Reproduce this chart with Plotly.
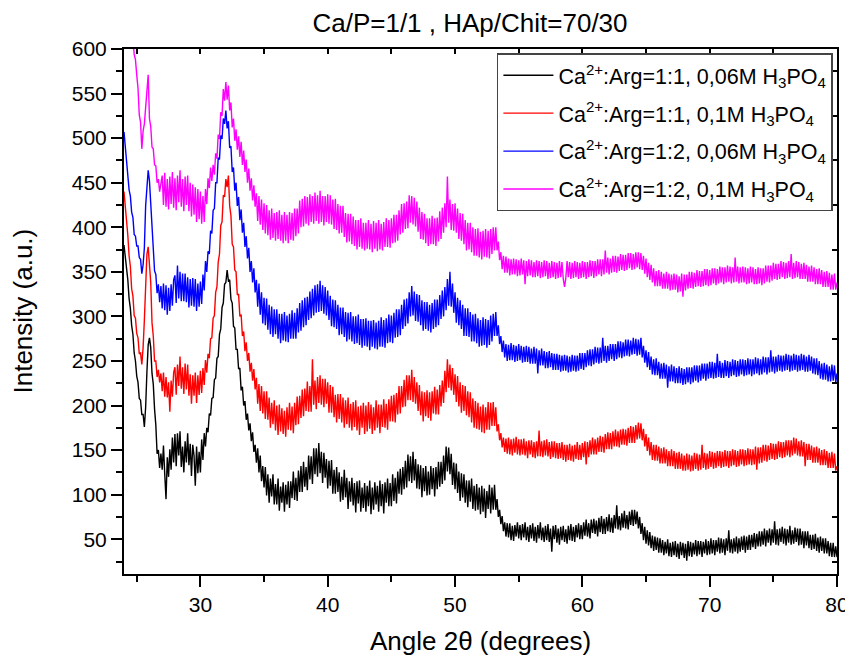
import plotly.graph_objects as go

# XRD scan grid (uniform step scan, 0.1 degree)
scan_start, scan_step, n_points = 24.0, 0.1, 561
angle = [round(scan_start + scan_step * i, 1) for i in range(n_points)]

# Intensity values, 10 per degree (x.0 ... x.9), last value at 80.0
black_1_1_006 = [
    380, 368, 350, 341, 320, 309, 290, 280, 259, 250,  # 24
    233, 226, 208, 206, 190, 190, 176, 198, 238, 268,  # 25
    276, 265, 236, 224, 196, 178, 146, 150, 130, 146,  # 26
    128, 155, 123, 95, 142, 120, 151, 128, 164, 136,   # 27
    168, 132, 169, 144, 171, 131, 154, 125, 160, 136,  # 28
    169, 133, 157, 121, 156, 144, 110, 154, 124, 148,  # 29
    125, 162, 139, 169, 154, 175, 170, 191, 189, 208,  # 30
    209, 229, 231, 253, 255, 280, 286, 310, 315, 336,  # 31
    338, 352, 340, 341, 319, 315, 289, 287, 263, 263,  # 32
    241, 242, 217, 221, 200, 205, 184, 191, 172, 180,  # 33
    160, 170, 148, 156, 136, 152, 125, 144, 115, 132,  # 34
    108, 131, 99, 123, 91, 118, 98, 123, 89, 112,      # 35
    89, 118, 82, 109, 91, 114, 81, 111, 89, 115,       # 36
    85, 115, 96, 126, 94, 119, 93, 127, 103, 132,      # 37
    103, 137, 109, 131, 105, 144, 117, 143, 112, 152,  # 38
    123, 152, 120, 158, 124, 148, 113, 147, 119, 140,  # 39
    107, 138, 110, 139, 101, 128, 101, 131, 103, 125,  # 40
    92, 120, 94, 128, 97, 119, 84, 115, 92, 119,       # 41
    88, 113, 80, 115, 90, 116, 81, 108, 85, 113,       # 42
    81, 110, 87, 116, 78, 108, 83, 114, 89, 110,       # 43
    81, 116, 87, 112, 79, 114, 91, 118, 87, 113,       # 44
    87, 123, 93, 119, 90, 126, 101, 129, 100, 131,     # 45
    106, 138, 108, 145, 115, 143, 113, 148, 116, 140,  # 46
    107, 134, 106, 133, 97, 130, 104, 132, 99, 126,    # 47
    100, 132, 106, 130, 98, 131, 106, 137, 109, 137,   # 48
    112, 144, 116, 154, 126, 153, 123, 146, 111, 136,  # 49
    106, 135, 102, 126, 93, 124, 97, 123, 91, 116,     # 50
    86, 116, 92, 118, 84, 110, 82, 112, 83, 108,       # 51
    78, 110, 81, 107, 74, 104, 84, 111, 79, 108,       # 52
    83, 111, 83, 95, 75, 83, 67, 76, 59, 69,           # 53
    53, 68, 52, 68, 49, 65, 48, 66, 53, 69,            # 54
    51, 66, 49, 67, 52, 69, 49, 64, 47, 66,            # 55
    51, 68, 48, 64, 46, 66, 51, 69, 49, 63,            # 56
    47, 65, 49, 67, 47, 62, 36, 65, 50, 66,            # 57
    46, 62, 44, 64, 49, 65, 47, 61, 45, 65,            # 58
    49, 67, 48, 64, 47, 66, 52, 68, 50, 66,            # 59
    50, 69, 54, 72, 53, 68, 51, 72, 57, 73,            # 60
    56, 71, 53, 74, 58, 76, 56, 73, 56, 75,            # 61
    59, 78, 58, 74, 57, 77, 62, 88, 61, 76,            # 62
    60, 79, 63, 82, 62, 77, 61, 81, 66, 83,            # 63
    65, 83, 67, 81, 62, 75, 56, 68, 49, 64,            # 64
    45, 60, 43, 58, 40, 54, 37, 53, 38, 52,            # 65
    35, 51, 35, 49, 32, 47, 34, 50, 31, 46,            # 66
    30, 47, 32, 48, 30, 45, 28, 47, 32, 46,            # 67
    29, 45, 26, 48, 31, 47, 30, 46, 33, 49,            # 68
    31, 48, 33, 48, 30, 47, 34, 50, 32, 48,            # 69
    33, 51, 34, 49, 32, 49, 36, 52, 34, 51,            # 70
    35, 50, 32, 51, 37, 60, 35, 50, 34, 51,            # 71
    36, 53, 34, 51, 36, 53, 38, 54, 35, 53,            # 72
    38, 55, 38, 55, 41, 57, 39, 56, 42, 59,            # 73
    42, 59, 44, 62, 42, 60, 46, 62, 43, 61,            # 74
    46, 70, 44, 61, 43, 62, 47, 64, 45, 62,            # 75
    43, 61, 46, 65, 44, 60, 45, 63, 47, 62,            # 76
    43, 62, 44, 59, 40, 59, 43, 59, 40, 55,            # 77
    38, 55, 39, 56, 37, 52, 35, 53, 37, 51,            # 78
    34, 51, 34, 48, 31, 46, 30, 46, 30, 42,            # 79
    30,                                                # 80
]

red_1_1_01 = [
    440, 425, 401, 391, 368, 356, 331, 323, 301, 298,  # 24
    281, 276, 258, 259, 246, 265, 296, 344, 370, 378,  # 25
    360, 338, 293, 278, 250, 250, 232, 240, 226, 236,  # 26
    216, 237, 210, 232, 209, 226, 193, 228, 210, 237,  # 27
    243, 212, 246, 222, 255, 219, 243, 213, 247, 218,  # 28
    246, 211, 235, 202, 234, 211, 237, 203, 234, 212,  # 29
    239, 214, 242, 223, 251, 237, 258, 253, 275, 276,  # 30
    298, 301, 327, 333, 361, 370, 402, 406, 436, 434,  # 31
    454, 445, 458, 424, 413, 381, 378, 352, 350, 324,  # 32
    325, 300, 302, 278, 283, 261, 271, 250, 259, 238,  # 33
    248, 228, 241, 218, 231, 202, 224, 194, 222, 191,  # 34
    216, 185, 216, 184, 209, 175, 203, 179, 206, 172,  # 35
    200, 167, 201, 171, 197, 168, 194, 165, 198, 173,  # 36
    203, 172, 199, 169, 203, 178, 210, 179, 211, 186,  # 37
    218, 188, 219, 194, 227, 193, 222, 193, 252, 201,  # 38
    228, 196, 232, 203, 234, 201, 230, 198, 230, 202,  # 39
    226, 192, 223, 192, 221, 187, 212, 181, 213, 185,  # 40
    213, 181, 209, 175, 206, 179, 209, 175, 202, 172,  # 41
    204, 176, 206, 172, 199, 167, 200, 175, 203, 168,  # 42
    200, 171, 204, 174, 201, 168, 198, 172, 206, 175,  # 43
    201, 169, 201, 176, 207, 175, 202, 173, 207, 182,  # 44
    211, 182, 212, 181, 214, 190, 222, 191, 222, 198,  # 45
    229, 199, 234, 206, 234, 206, 240, 204, 232, 202,  # 46
    226, 194, 223, 189, 216, 182, 215, 188, 217, 186,  # 47
    215, 183, 216, 191, 221, 190, 218, 190, 223, 199,  # 48
    228, 203, 239, 215, 252, 220, 246, 217, 242, 212,  # 49
    235, 204, 233, 199, 226, 192, 223, 194, 222, 189,  # 50
    216, 187, 215, 181, 208, 175, 205, 174, 203, 173,  # 51
    199, 170, 201, 169, 198, 173, 204, 173, 203, 177,  # 52
    204, 177, 198, 171, 179, 161, 169, 153, 164, 148,  # 53
    163, 146, 164, 145, 162, 144, 163, 147, 165, 145,  # 54
    162, 144, 162, 145, 163, 144, 160, 141, 161, 145,  # 55
    161, 142, 159, 141, 160, 143, 172, 143, 160, 142,  # 56
    161, 144, 162, 143, 159, 140, 160, 142, 160, 141,  # 57
    158, 140, 158, 141, 159, 139, 156, 137, 156, 139,  # 58
    157, 138, 155, 137, 156, 140, 159, 139, 156, 139,  # 59
    158, 142, 160, 134, 159, 142, 161, 145, 164, 145,  # 60
    162, 145, 164, 148, 166, 148, 165, 147, 168, 151,  # 61
    170, 151, 169, 151, 171, 154, 173, 154, 171, 153,  # 62
    173, 156, 174, 156, 173, 155, 175, 158, 177, 158,  # 63
    176, 158, 178, 162, 181, 163, 180, 161, 174, 154,  # 64
    168, 149, 164, 144, 159, 139, 156, 138, 156, 138,  # 65
    154, 135, 152, 135, 153, 135, 151, 132, 149, 132,  # 66
    151, 132, 149, 129, 147, 129, 148, 129, 146, 127,  # 67
    144, 127, 146, 128, 145, 126, 144, 127, 147, 129,  # 68
    146, 127, 145, 128, 156, 130, 147, 128, 146, 129,  # 69
    149, 131, 148, 129, 147, 130, 149, 132, 149, 130,  # 70
    148, 131, 150, 132, 149, 130, 149, 132, 151, 133,  # 71
    150, 131, 149, 132, 151, 134, 151, 132, 150, 133,  # 72
    152, 134, 151, 133, 151, 134, 154, 128, 153, 135,  # 73
    153, 136, 156, 138, 156, 137, 155, 139, 158, 140,  # 74
    157, 139, 157, 140, 160, 142, 159, 141, 159, 142,  # 75
    161, 144, 161, 142, 161, 144, 164, 146, 163, 144,  # 76
    160, 143, 161, 143, 159, 132, 157, 139, 157, 139,  # 77
    155, 136, 153, 136, 154, 136, 152, 133, 150, 133,  # 78
    151, 133, 149, 130, 147, 130, 148, 130, 146, 127,  # 79
    132,                                               # 80
]

blue_1_2_006 = [
    507, 490, 467, 459, 442, 435, 417, 411, 392, 390,  # 24
    379, 379, 366, 364, 348, 358, 377, 424, 448, 464,  # 25
    452, 428, 391, 377, 351, 347, 326, 336, 316, 334,  # 26
    309, 337, 307, 335, 302, 332, 306, 336, 312, 341,  # 27
    346, 315, 357, 320, 350, 317, 348, 317, 348, 316,  # 28
    344, 310, 342, 312, 343, 311, 342, 306, 337, 311,  # 29
    339, 314, 347, 329, 362, 350, 373, 370, 396, 393,  # 30
    419, 421, 450, 450, 478, 476, 503, 499, 522, 516,  # 31
    531, 511, 519, 489, 491, 462, 467, 441, 450, 424,  # 32
    434, 408, 420, 394, 405, 378, 390, 365, 377, 350,  # 33
    362, 338, 354, 327, 341, 311, 337, 302, 327, 292,  # 34
    321, 290, 320, 285, 313, 280, 311, 277, 308, 280,  # 35
    308, 275, 303, 270, 303, 273, 305, 272, 301, 271,  # 36
    303, 275, 307, 275, 304, 275, 309, 282, 315, 284,  # 37
    318, 288, 321, 290, 322, 296, 328, 298, 331, 301,  # 38
    335, 304, 336, 305, 340, 306, 335, 303, 333, 301,  # 39
    329, 296, 323, 289, 319, 288, 318, 286, 313, 279,  # 40
    310, 280, 310, 277, 305, 272, 304, 274, 305, 272,  # 41
    300, 269, 300, 270, 302, 268, 297, 265, 297, 267,  # 42
    298, 266, 295, 262, 295, 266, 296, 264, 293, 263,  # 43
    295, 266, 299, 266, 296, 265, 298, 270, 302, 271,  # 44
    301, 270, 304, 276, 308, 277, 308, 279, 313, 286,  # 45
    319, 289, 320, 292, 327, 300, 334, 301, 328, 295,  # 46
    325, 294, 324, 290, 318, 284, 316, 286, 316, 284,  # 47
    313, 282, 315, 286, 319, 288, 319, 290, 324, 297,  # 48
    329, 300, 333, 307, 342, 312, 350, 311, 337, 304,  # 49
    327, 293, 321, 290, 318, 286, 313, 278, 309, 278,  # 50
    309, 277, 305, 272, 302, 272, 303, 270, 298, 266,  # 51
    296, 267, 299, 268, 297, 265, 296, 268, 301, 272,  # 52
    303, 278, 305, 278, 290, 269, 278, 260, 273, 254,  # 53
    269, 250, 268, 251, 270, 251, 268, 249, 267, 250,  # 54
    269, 251, 267, 248, 266, 249, 267, 249, 266, 247,  # 55
    264, 247, 266, 247, 264, 236, 262, 245, 264, 245,  # 56
    261, 242, 260, 242, 261, 243, 259, 240, 258, 240,  # 57
    258, 240, 257, 238, 256, 239, 257, 239, 256, 237,  # 58
    255, 238, 257, 239, 256, 238, 256, 239, 259, 241,  # 59
    259, 240, 259, 243, 262, 245, 263, 244, 263, 246,  # 60
    266, 248, 265, 247, 265, 248, 276, 250, 267, 248,  # 61
    267, 250, 269, 252, 269, 250, 269, 252, 272, 254,  # 62
    272, 253, 271, 255, 274, 256, 274, 255, 273, 257,  # 63
    276, 258, 275, 256, 274, 257, 276, 254, 267, 248,  # 64
    262, 243, 260, 240, 255, 235, 252, 234, 253, 234,  # 65
    249, 230, 247, 230, 248, 230, 246, 220, 244, 227,  # 66
    246, 227, 244, 225, 242, 225, 244, 225, 242, 223,  # 67
    241, 224, 243, 226, 243, 224, 243, 226, 245, 228,  # 68
    245, 226, 245, 228, 247, 230, 247, 228, 247, 230,  # 69
    249, 231, 249, 230, 248, 231, 258, 232, 250, 231,  # 70
    248, 231, 251, 233, 250, 231, 249, 233, 252, 234,  # 71
    251, 232, 250, 233, 252, 235, 252, 233, 251, 234,  # 72
    253, 235, 252, 233, 252, 235, 254, 236, 253, 234,  # 73
    252, 235, 255, 237, 254, 235, 254, 237, 262, 238,  # 74
    255, 236, 255, 238, 257, 239, 256, 238, 256, 239,  # 75
    258, 240, 257, 238, 256, 239, 258, 240, 257, 238,  # 76
    256, 239, 258, 240, 257, 238, 255, 238, 257, 239,  # 77
    255, 236, 253, 235, 253, 234, 250, 230, 247, 229,  # 78
    248, 229, 246, 227, 244, 227, 246, 228, 245, 226,  # 79
    236,                                               # 80
]

magenta_1_2_01 = [
    700, 690, 674, 666, 650, 642, 622, 612, 594, 588,  # 24
    571, 556, 526, 518, 488, 508, 516, 538, 548, 571,  # 25
    522, 513, 490, 488, 470, 469, 450, 454, 440, 447,  # 26
    458, 425, 461, 423, 454, 420, 457, 426, 462, 422,  # 27
    455, 419, 458, 428, 464, 423, 454, 418, 457, 425,  # 28
    458, 418, 450, 412, 448, 414, 445, 406, 443, 409,  # 29
    440, 404, 435, 406, 443, 426, 455, 444, 467, 452,  # 30
    470, 459, 483, 477, 504, 499, 529, 525, 555, 542,  # 31
    563, 543, 559, 531, 540, 512, 522, 497, 510, 487,  # 32
    502, 479, 496, 470, 486, 462, 476, 450, 466, 441,  # 33
    455, 430, 447, 423, 438, 407, 435, 403, 431, 397,  # 34
    427, 393, 425, 391, 419, 386, 421, 388, 416, 385,  # 35
    417, 387, 419, 385, 414, 382, 417, 385, 414, 382,  # 36
    417, 386, 416, 385, 421, 390, 421, 393, 430, 400,  # 37
    432, 401, 435, 404, 434, 402, 437, 406, 435, 404,  # 38
    439, 407, 436, 404, 441, 406, 435, 402, 435, 406,  # 39
    437, 404, 436, 403, 431, 398, 432, 397, 426, 393,  # 40
    424, 394, 424, 389, 416, 383, 415, 384, 415, 381,  # 41
    412, 379, 408, 375, 408, 378, 410, 376, 405, 374,  # 42
    405, 376, 408, 375, 404, 372, 407, 376, 405, 373,  # 43
    408, 375, 404, 374, 406, 378, 410, 378, 408, 377,  # 44
    410, 382, 414, 383, 414, 385, 419, 392, 426, 394,  # 45
    427, 398, 429, 399, 436, 405, 435, 403, 433, 401,  # 46
    429, 395, 422, 387, 417, 386, 415, 382, 410, 379,  # 47
    410, 381, 413, 381, 410, 379, 411, 384, 418, 387,  # 48
    422, 394, 427, 400, 457, 405, 431, 397, 426, 396,  # 49
    427, 394, 421, 387, 416, 385, 415, 381, 408, 374,  # 50
    405, 375, 405, 372, 400, 368, 398, 368, 399, 366,  # 51
    395, 364, 396, 367, 398, 366, 396, 365, 398, 370,  # 52
    400, 374, 400, 374, 384, 363, 372, 353, 368, 349,  # 53
    367, 349, 365, 346, 364, 347, 365, 347, 364, 345,  # 54
    363, 346, 365, 347, 363, 336, 362, 345, 364, 346,  # 55
    363, 344, 361, 344, 363, 345, 362, 343, 361, 344,  # 56
    363, 345, 362, 342, 360, 343, 362, 344, 361, 342,  # 57
    360, 343, 362, 344, 361, 342, 333, 343, 362, 344,  # 58
    361, 342, 360, 343, 362, 344, 361, 342, 360, 343,  # 59
    362, 344, 361, 342, 361, 344, 363, 345, 362, 343,  # 60
    362, 345, 364, 347, 364, 345, 364, 347, 374, 349,  # 61
    366, 347, 365, 349, 368, 350, 368, 349, 367, 351,  # 62
    370, 352, 369, 351, 369, 352, 371, 354, 371, 352,  # 63
    370, 353, 372, 355, 372, 353, 371, 352, 368, 348,  # 64
    365, 344, 360, 341, 358, 338, 354, 334, 351, 334,  # 65
    352, 334, 350, 331, 348, 331, 350, 331, 348, 329,  # 66
    347, 330, 348, 330, 347, 327, 345, 328, 348, 322,  # 67
    347, 329, 347, 331, 350, 332, 350, 331, 349, 333,  # 68
    352, 334, 351, 333, 351, 334, 353, 335, 353, 334,  # 69
    352, 335, 354, 337, 354, 335, 353, 337, 356, 338,  # 70
    355, 336, 355, 338, 357, 339, 356, 337, 355, 338,  # 71
    366, 339, 356, 337, 355, 338, 356, 338, 355, 336,  # 72
    354, 337, 356, 338, 355, 336, 353, 336, 355, 337,  # 73
    354, 335, 354, 337, 357, 339, 357, 338, 357, 340,  # 74
    360, 342, 359, 341, 359, 342, 362, 344, 361, 342,  # 75
    360, 343, 362, 344, 370, 342, 360, 343, 362, 344,  # 76
    361, 342, 359, 342, 360, 342, 358, 339, 356, 339,  # 77
    357, 339, 355, 336, 353, 336, 354, 336, 352, 333,  # 78
    350, 333, 351, 333, 349, 330, 347, 330, 348, 330,  # 79
    338,                                               # 80
]

series_names = [
    "Ca<sup>2+</sup>:Arg=1:1, 0,06M H<sub>3</sub>PO<sub>4</sub>",
    "Ca<sup>2+</sup>:Arg=1:1, 0,1M H<sub>3</sub>PO<sub>4</sub>",
    "Ca<sup>2+</sup>:Arg=1:2, 0,06M H<sub>3</sub>PO<sub>4</sub>",
    "Ca<sup>2+</sup>:Arg=1:2, 0,1M H<sub>3</sub>PO<sub>4</sub>",
]
series_values = [black_1_1_006, red_1_1_01, blue_1_2_006, magenta_1_2_01]
series_colors = ["#000000", "#FF0000", "#0000FF", "#FF00FF"]

x_major = [30, 40, 50, 60, 70, 80]
x_minor = [25, 35, 45, 55, 65, 75]
y_major = [50, 100, 150, 200, 250, 300, 350, 400, 450, 500, 550, 600]
y_minor = [25, 75, 125, 175, 225, 275, 325, 375, 425, 475, 525, 575]
x_top = [25, 30, 35, 40, 45, 50, 55, 60, 65, 70, 75, 80]

FONT = "Arial, Liberation Sans, Helvetica, sans-serif"

# The page body adds an 8 px offset; the layout below is shifted to compensate.
OFF = 8
W, H = 853, 656

fig = go.Figure()
for rank in [3, 2, 1, 0]:
    fig.add_trace(go.Scatter(
        x=angle[:len(series_values[rank])], y=series_values[rank], mode="lines",
        name=series_names[rank], legendrank=rank + 1, legendgroup=f"g{rank}",
        line=dict(color=series_colors[rank], width=1.4),
    ))
# empty trace that carries the mirrored top/right axes
fig.add_trace(go.Scatter(x=[], y=[], xaxis="x2", yaxis="y2", showlegend=False, hoverinfo="skip"))

axis_common = dict(showline=True, linecolor="black", linewidth=2, showgrid=False, zeroline=False)

fig.update_layout(
    width=W, height=H,
    margin=dict(l=124 - OFF, r=W - (837 - OFF), t=49 - OFF, b=H - (574 - OFF)),
    paper_bgcolor="white", plot_bgcolor="white",
    font=dict(family=FONT, color="black"),
    title=dict(text="Ca/P=1/1 , HAp/Chit=70/30", x=(470 - OFF) / W, xanchor="center",
               y=1 - (23 - OFF) / H, yanchor="middle", yref="container",
               font=dict(size=26, family=FONT, color="black")),
    xaxis=dict(range=[24, 80], tickmode="array", tickvals=x_major, ticks="outside",
               ticklen=11, tickwidth=2, tickcolor="black", tickfont=dict(size=21),
               minor=dict(tickmode="array", tickvals=x_minor, ticks="outside", ticklen=6,
                          tickwidth=2, tickcolor="black", showgrid=False),
               **axis_common),
    yaxis=dict(range=[11, 600], tickmode="array", tickvals=y_major, ticks="outside",
               ticklen=11, tickwidth=2, tickcolor="black", tickfont=dict(size=21),
               minor=dict(tickmode="array", tickvals=y_minor, ticks="outside", ticklen=6,
                          tickwidth=2, tickcolor="black", showgrid=False),
               **axis_common),
    xaxis2=dict(range=[24, 80], overlaying="x", side="top", anchor="y2",
                tickmode="array", tickvals=x_top, ticks="inside", ticklen=5, tickwidth=2,
                tickcolor="black", showticklabels=False, **axis_common),
    yaxis2=dict(range=[11, 600], overlaying="y", side="right", anchor="x2",
                tickmode="array", tickvals=y_minor, ticks="inside", ticklen=5, tickwidth=2,
                tickcolor="black", showticklabels=False, **axis_common),
    legend=dict(x=0.523, y=0.992, xanchor="left", yanchor="top",
                bgcolor="white", bordercolor="#444444", borderwidth=1.5,
                itemwidth=50,
                font=dict(size=21.5, family=FONT, color="black"), tracegroupgap=7),
    showlegend=True,
    annotations=[
        dict(text="Angle 2θ (degrees)", xref="paper", yref="paper", x=0.5, y=(574 - 641) / 525,
             xanchor="center", yanchor="middle", showarrow=False,
             font=dict(size=26, family=FONT, color="black")),
        dict(text="Intensity (a.u.)", xref="paper", yref="paper", x=(22 - 124) / 713, y=0.5,
             xanchor="center", yanchor="middle", textangle=-90, showarrow=False,
             font=dict(size=26, family=FONT, color="black")),
    ],
)

fig.write_html("out.html")
